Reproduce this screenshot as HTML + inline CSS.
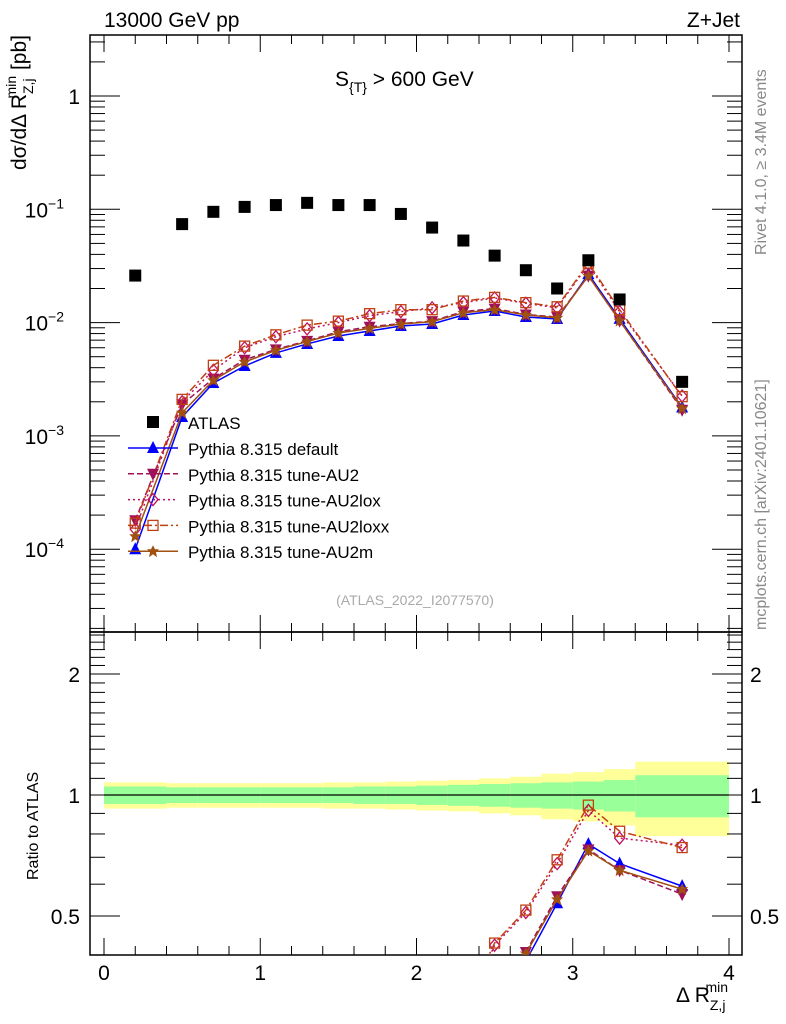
<!DOCTYPE html>
<html><head><meta charset="utf-8"><style>
html,body{margin:0;background:#fff;overflow:hidden;width:786px;height:1024px}
svg{display:block;font-family:"Liberation Sans",sans-serif}
</style></head><body>
<svg id="c" width="786" height="1024" xmlns="http://www.w3.org/2000/svg"></svg>
<script>
const xs=[0.2,0.5,0.7,0.9,1.1,1.3,1.5,1.7,1.9,2.1,2.3,2.5,2.7,2.9,3.1,3.3,3.7];
const binEdges=[0,0.4,0.6,0.8,1.0,1.2,1.4,1.6,1.8,2.0,2.2,2.4,2.6,2.8,3.0,3.2,3.4,4.0];
const atlas=[0.026,0.074,0.095,0.105,0.109,0.114,0.109,0.109,0.091,0.069,0.053,0.039,0.029,0.020,0.0355,0.016,0.0030];
const pyDefault=[0.0001,0.00147,0.00293,0.00414,0.0054,0.00648,0.00762,0.00843,0.00933,0.00973,0.01167,0.01265,0.0112,0.01076,0.0268,0.0108,0.00178];
const pyAU2=[0.00018,0.0019,0.0032,0.0047,0.0058,0.0069,0.0083,0.0092,0.0098,0.0103,0.0125,0.0133,0.0118,0.0112,0.026,0.0104,0.0017];
const pyAU2lox=[0.00015,0.0020,0.0038,0.0060,0.0075,0.0088,0.0100,0.0115,0.0125,0.0135,0.0150,0.0165,0.0148,0.0135,0.0325,0.0125,0.00225];
const pyAU2loxx=[0.00017,0.0021,0.0042,0.0062,0.0078,0.0095,0.0103,0.0120,0.0130,0.0130,0.0155,0.0167,0.0150,0.0138,0.0335,0.0130,0.00222];
const pyAU2m=[0.00013,0.0016,0.0031,0.0045,0.0057,0.0068,0.0081,0.0089,0.0097,0.0102,0.0122,0.0130,0.0117,0.0110,0.0258,0.0104,0.00175];
const bandGreen=[0.05,0.045,0.045,0.045,0.045,0.045,0.045,0.05,0.05,0.055,0.06,0.065,0.07,0.075,0.08,0.09,0.12];
const bandYellow=[0.075,0.07,0.07,0.07,0.07,0.07,0.075,0.075,0.08,0.085,0.09,0.1,0.11,0.13,0.14,0.16,0.21];
const ratioTicks=[0.5,1,2];

const NS="http://www.w3.org/2000/svg",svg=document.getElementById('c');
function el(t,a,p){const e=document.createElementNS(NS,t);for(const k in a)e.setAttribute(k,a[k]);(p||svg).appendChild(e);return e;}
const L=90,R=742,T=35,M=632,B=955;
const X=v=>104+v*156.25;
const Y=v=>96-113.3*Math.log10(v);
const YR=v=>795-402*Math.log10(v);
for(let i=0;i<bandYellow.length;i++){
 let r=el('rect',{x:X(binEdges[i]),y:YR(1+bandYellow[i]),width:X(binEdges[i+1])-X(binEdges[i]),height:YR(1-bandYellow[i])-YR(1+bandYellow[i]),fill:'#ffff99'});
 
 
 let g=el('rect',{x:X(binEdges[i]),y:YR(1+bandGreen[i]),width:X(binEdges[i+1])-X(binEdges[i]),height:YR(1-bandGreen[i])-YR(1+bandGreen[i]),fill:'#99ff99'});
 
 
}
el('line',{x1:X(0),x2:X(4),y1:YR(1),y2:YR(1),stroke:'#000','stroke-width':1.2});
for(const [y1,y2] of [[T,M],[M,B]]){const f=el('rect',{x:L,y:y1,width:R-L,height:y2-y1,fill:'none',stroke:'#000','stroke-width':1.5});}
for(let v=0;v<=4.001;v+=0.2){const maj=Math.abs(v-Math.round(v))<1e-6;const h=maj?17:9;
 for(const [yt,yb] of [[T,M],[M,B]]){el('line',{x1:X(v),x2:X(v),y1:yb,y2:yb-h,stroke:'#000'});el('line',{x1:X(v),x2:X(v),y1:yt,y2:yt+h,stroke:'#000'});}
 if(maj){const t=el('text',{x:X(v),y:980,'font-size':21,'text-anchor':'middle'});t.textContent=Math.round(v);}}
for(let d=-5;d<=0;d++){for(let k=1;k<=9;k++){const v=k*Math.pow(10,d);const y=Y(v);if(y<T||y>M)continue;const h=k==1?30:15;
 el('line',{x1:L,x2:L+h,y1:y,y2:y,stroke:'#000'});el('line',{x1:R,x2:R-h,y1:y,y2:y,stroke:'#000'});}}
const lbl=[1,0.1,0.01,0.001,0.0001],ex=['','−1','−2','−3','−4'];
lbl.forEach((l,i)=>{const t=el('text',{y:Y(l)+8,'font-size':21,'text-anchor':'end'});
 if(i){t.setAttribute('x',64);t.textContent='10';const s=el('tspan',{dy:-9,'font-size':14},t);s.textContent=ex[i];}else{t.setAttribute('x',80);t.textContent='1';}});
for(let v=0.4;v<=2.55;v+=0.1){const y=YR(v);if(y<M||y>B)continue;const maj=ratioTicks.some(r=>Math.abs(r-v)<1e-6);const h=maj?30:15;
 el('line',{x1:L,x2:L+h,y1:y,y2:y,stroke:'#000'});el('line',{x1:R,x2:R-h,y1:y,y2:y,stroke:'#000'});}
ratioTicks.forEach(r=>{for(const [x,a] of [[80,'end'],[750,'start']]){const t=el('text',{x:x,y:YR(r)+8,'font-size':21,'text-anchor':a});t.textContent=r;}});
function marker(type,x,y,c,g){
 if(type=='sq')return el('rect',{x:x-6,y:y-6,width:12,height:12,fill:'#000'},g);
 if(type=='tri')return el('polygon',{points:`${x},${y-7} ${x-6},${y+5} ${x+6},${y+5}`,fill:c},g);
 if(type=='itri')return el('polygon',{points:`${x},${y+7} ${x-6},${y-5} ${x+6},${y-5}`,fill:c},g);
 if(type=='dia')return el('polygon',{points:`${x},${y-6} ${x-5},${y} ${x},${y+6} ${x+5},${y}`,fill:'none',stroke:c,'stroke-width':1.3},g);
 if(type=='osq')return el('rect',{x:x-5,y:y-5,width:10,height:10,fill:'none',stroke:c,'stroke-width':1.3},g);
 if(type=='star')return el('polygon',{points:`${x},${y-6} ${x+2},${y-2} ${x+6},${y-2} ${x+3},${y+1} ${x+4},${y+6} ${x},${y+3} ${x-4},${y+6} ${x-3},${y+1} ${x-6},${y-2} ${x-2},${y-2}`,fill:c},g);
}
const series=[
 {n:'pythia-default',d:pyDefault,c:'#0000ff',m:'tri',dash:'',lab:'Pythia 8.315 default'},
 {n:'pythia-au2',d:pyAU2,c:'#a0105a',m:'itri',dash:'6,3',lab:'Pythia 8.315 tune-AU2'},
 {n:'pythia-au2lox',d:pyAU2lox,c:'#c01060',m:'dia',dash:'2,3',lab:'Pythia 8.315 tune-AU2lox'},
 {n:'pythia-au2loxx',d:pyAU2loxx,c:'#c04010',m:'osq',dash:'8,3,2,3',lab:'Pythia 8.315 tune-AU2loxx'},
 {n:'pythia-au2m',d:pyAU2m,c:'#a05010',m:'star',dash:'',lab:'Pythia 8.315 tune-AU2m'}];
const clipM=el('clipPath',{id:'cm'});el('rect',{x:L,y:T,width:R-L,height:M-T},clipM);
const clipR=el('clipPath',{id:'cr'});el('rect',{x:L,y:M,width:R-L,height:B-M},clipR);
series.forEach(s=>{
 const g=el('g',{'clip-path':'url(#cm)'});
 el('polyline',{points:xs.map((x,i)=>X(x)+','+Y(s.d[i])).join(' '),fill:'none',stroke:s.c,'stroke-width':1.5,'stroke-dasharray':s.dash},g);
 xs.forEach((x,i)=>{const m=marker(s.m,X(x),Y(s.d[i]),s.c,g);});
 const gr=el('g',{'clip-path':'url(#cr)'});
 el('polyline',{points:xs.map((x,i)=>X(x)+','+YR(s.d[i]/atlas[i])).join(' '),fill:'none',stroke:s.c,'stroke-width':1.5,'stroke-dasharray':s.dash},gr);
 xs.forEach((x,i)=>{const m=marker(s.m,X(x),YR(s.d[i]/atlas[i]),s.c,gr);});
});
xs.forEach((x,i)=>{const m=marker('sq',X(x),Y(atlas[i]));});
const lg=el('g',{});
marker('sq',153,422,'#000',lg);
let t0=el('text',{x:188,y:429,'font-size':17},lg);t0.textContent='ATLAS';
series.forEach((s,i)=>{const y=448+i*25.8;
 el('line',{x1:128,x2:178,y1:y,y2:y,stroke:s.c,'stroke-width':1.5,'stroke-dasharray':s.dash},lg);
 marker(s.m,153,y,s.c,lg);
 const t=el('text',{x:188,y:y+7,'font-size':17},lg);t.textContent=s.lab;});
function txt(s,a,name){const t=el('text',a);t.innerHTML=s;return t;}
txt('13000 GeV pp',{x:104,y:27,'font-size':21},'energy-label');
txt('Z+Jet',{x:740,y:27,'font-size':21,'text-anchor':'end'},'process-label');
txt('S<tspan dy="6" font-size="14">{T}</tspan><tspan dy="-6"> &gt; 600 GeV</tspan>',{x:335,y:86,'font-size':21},'plot-title');
txt('(ATLAS_2022_I2077570)',{x:415,y:605,'font-size':14,fill:'#aaa','text-anchor':'middle'},'analysis-id');
txt('Rivet 4.1.0, ≥ 3.4M events',{x:0,y:0,'font-size':16,fill:'#888',transform:'translate(766,255) rotate(-90)'},'rivet-label');
txt('mcplots.cern.ch [arXiv:2401.10621]',{x:0,y:0,'font-size':16,fill:'#888',transform:'translate(766,630) rotate(-90)'},'mcplots-label');
txt('dσ/dΔ R<tspan dy="7" font-size="14">Z,j</tspan><tspan dx="-20" dy="-17" font-size="14">min</tspan><tspan dy="10"> [pb]</tspan>',{x:0,y:0,'font-size':21,'text-anchor':'end',transform:'translate(26,35) rotate(-90)'},'y-axis-title');
txt('Ratio to ATLAS',{x:0,y:0,'font-size':16,transform:'translate(38,880) rotate(-90)'},'ratio-axis-title');
txt('Δ R<tspan dy="8" font-size="14">Z,j</tspan><tspan dx="-20" dy="-18" font-size="14">min</tspan>',{x:676,y:1002,'font-size':21},'x-axis-title');
</script>
</body></html>
